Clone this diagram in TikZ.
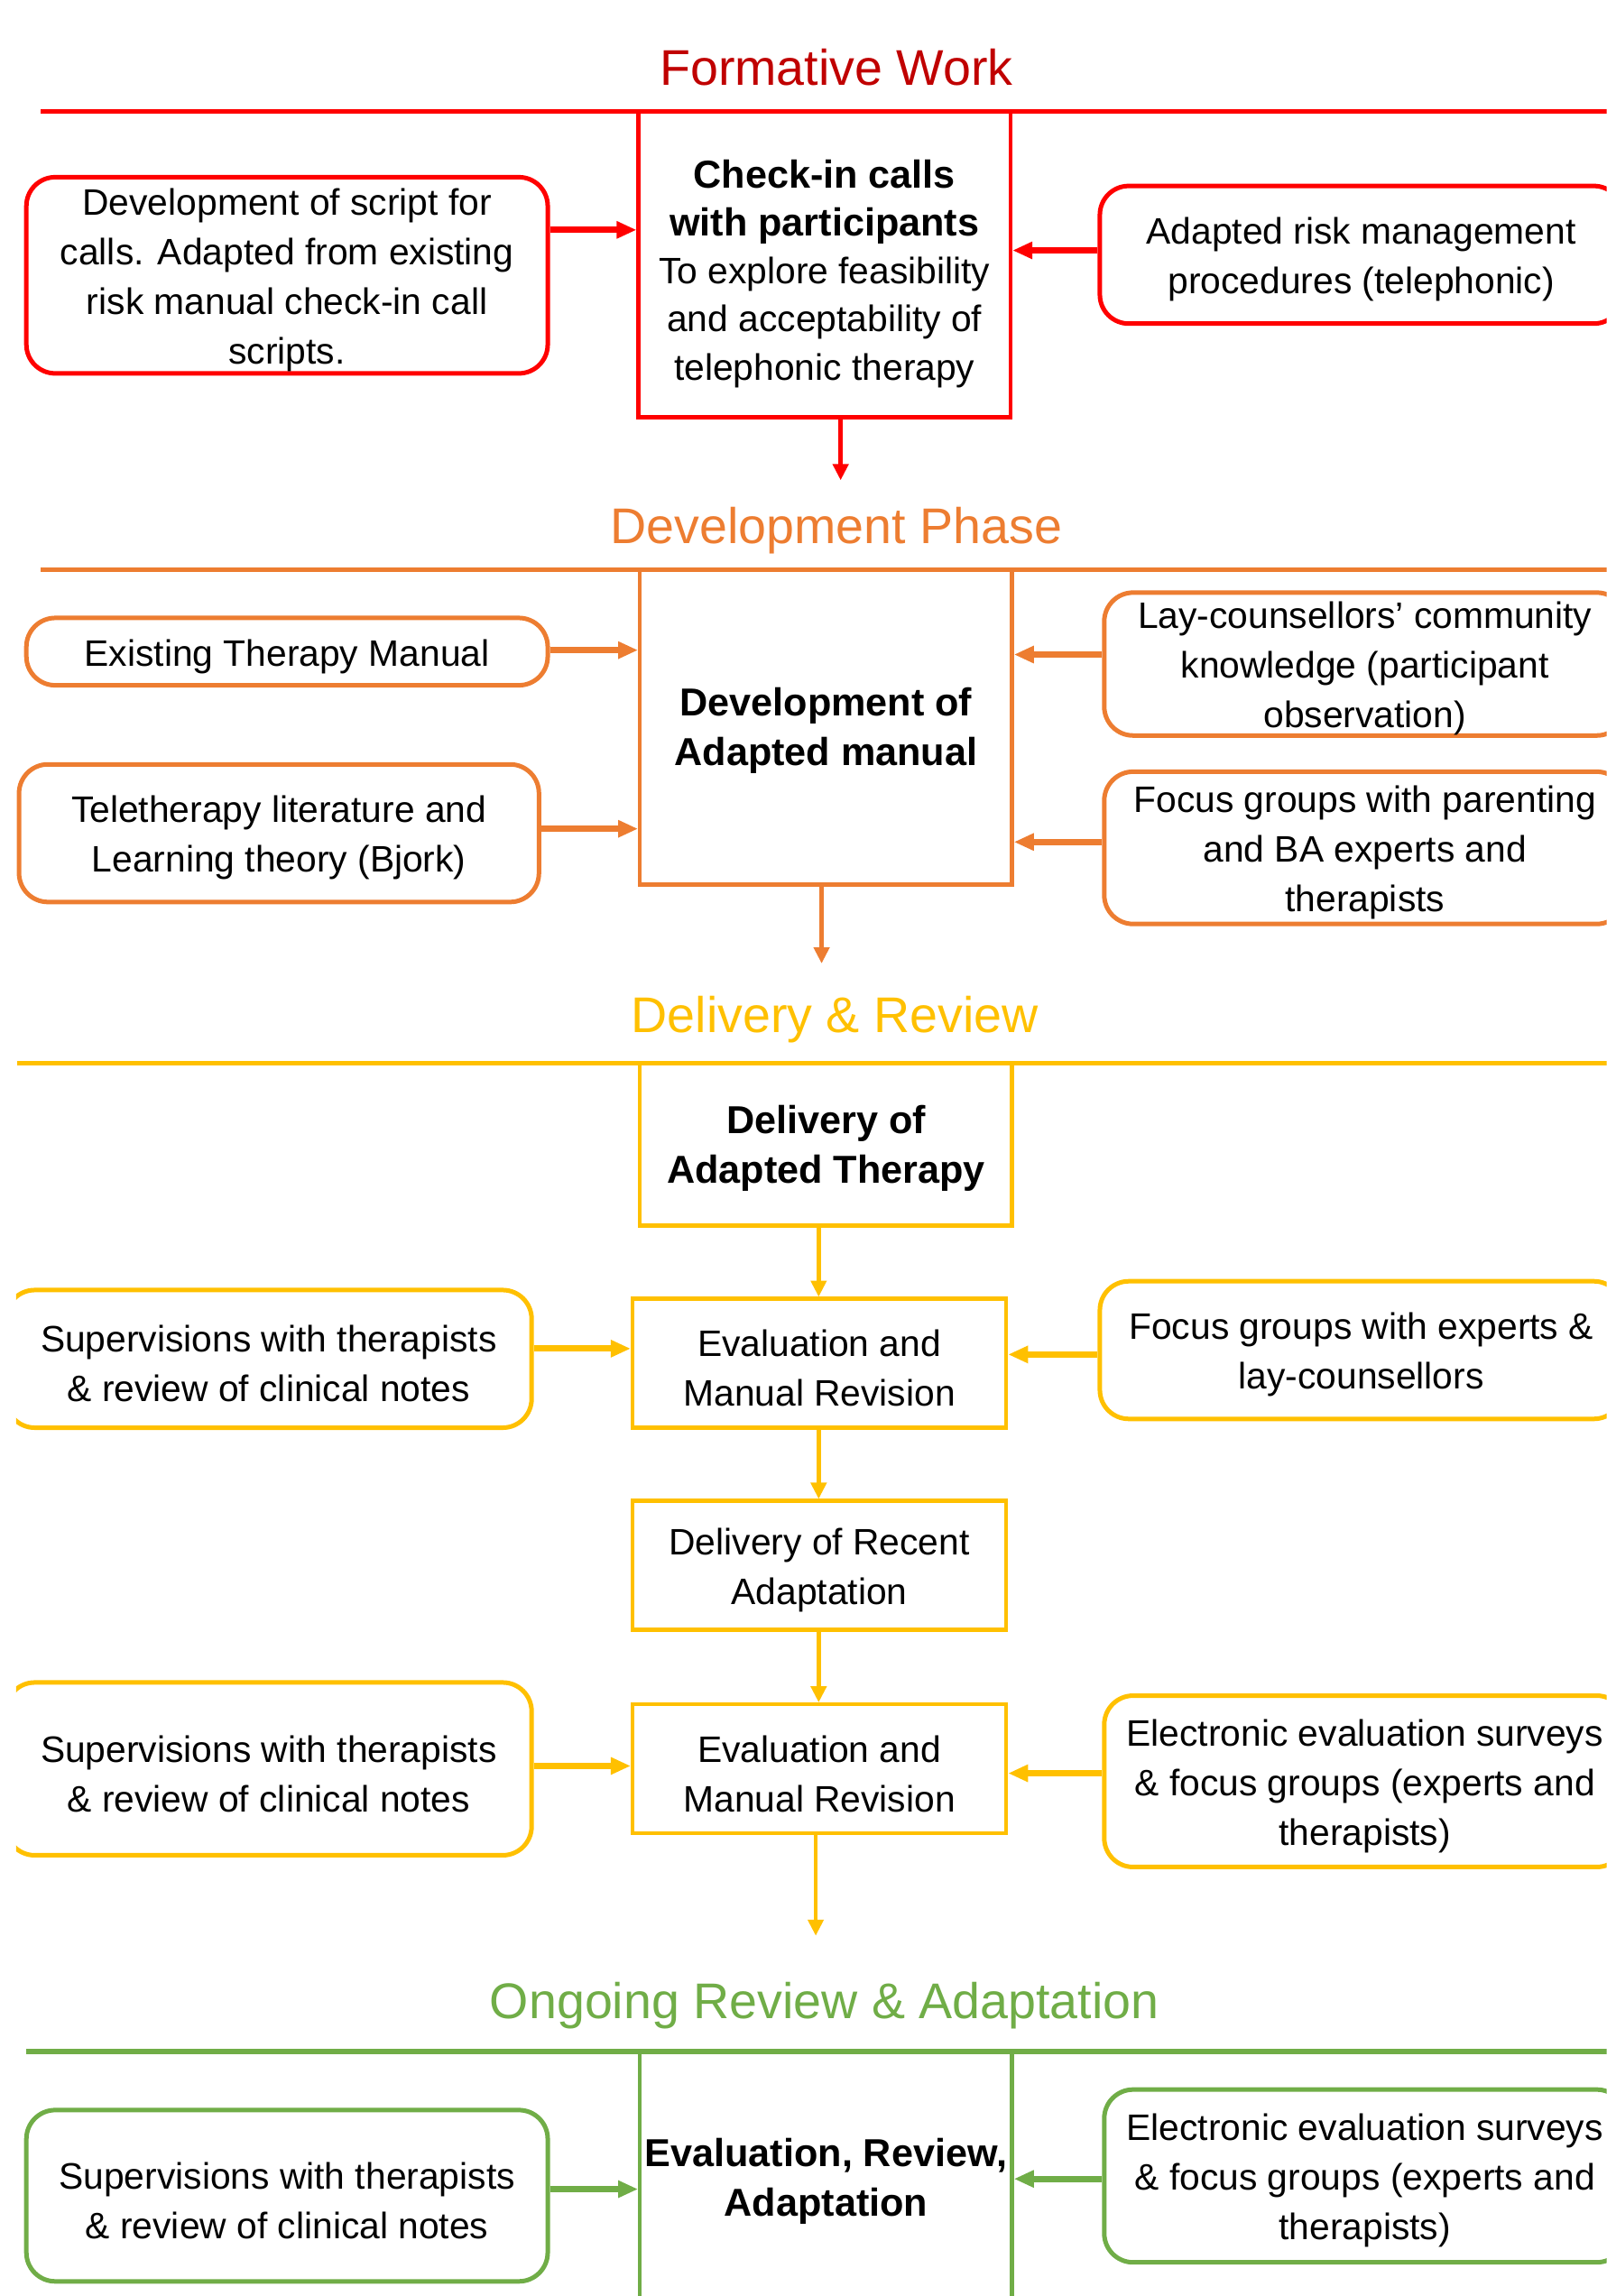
\documentclass[tikz,border=0pt]{standalone}
\usepackage{fontspec}
\setmainfont{Liberation Sans}
\usetikzlibrary{arrows.meta}
\definecolor{cred}{HTML}{FF0000}
\definecolor{cdred}{HTML}{C00000}
\definecolor{corange}{HTML}{ED7D31}
\definecolor{cyellow}{HTML}{FFC000}
\definecolor{cgreen}{HTML}{70AD47}
\newcommand{\bodyfnt}{\fontsize{20.4}{27.5}\selectfont}
\newcommand{\tightfnt}{\fontsize{20.4}{26.6}\selectfont}
\newcommand{\bfnt}{\fontsize{21.6}{27.5}\selectfont\bfseries}
\newcommand{\bfntt}{\fontsize{21.6}{26.6}\selectfont\bfseries}
\newcommand{\titlefnt}{\fontsize{27.8}{33}\selectfont}
\newcommand{\topstrut}{\rule{0pt}{20pt}}
\tikzset{
  sect/.style={line width=2.8pt},
  wh/.style 2 args={minimum width=#1*0.81175pt, minimum height=#2*0.81175pt},
  cbox/.style={draw, line width=2.2pt, inner sep=0pt, align=center, font=\bodyfnt, text=black},
  rbox/.style={cbox, rounded corners=16pt, line width=2.5pt},
  sarr/.style={line width=3.5pt, -{Triangle[length=11pt,width=9pt]}},
  darr/.style={line width=2.2pt, -{Triangle[length=9pt,width=8.5pt]}},
  ttl/.style={font=\titlefnt, text height=20pt, text depth=0pt, inner sep=0pt},
}
\begin{document}
\begin{tikzpicture}[x=0.81175pt,y=-0.81175pt]
\useasboundingbox (0,0) rectangle (1097,1568);
\begin{scope}
\clip (11,0) rectangle (1097,1568);
% ---------------- Formative Work
\node[ttl, text=cdred] (t1) at (571,46) {Formative Work};
\coordinate (l1a) at (28,76);
\coordinate (l1b) at (1115,76);
\draw[sect, cred] (l1a) -- (l1b);
\node[cbox, draw=cred, wh={254}{209}, font=\tightfnt] (cb1) at (563,180.5) {\topstrut\rule{0pt}{26pt}{\bfntt Check-in calls}\\{\bfntt with participants}\\To explore feasibility\\and acceptability of\\telephonic therapy};
\node[rbox, draw=cred, wh={356}{134}] (lb1) at (196,188) {\topstrut Development of script for\\calls. Adapted from existing\\risk manual check-in call\\scripts.};
\node[rbox, draw=cred, wh={357}{94}] (rb1) at (929.5,174) {\topstrut Adapted risk management\\procedures (telephonic)};
\draw[sarr, cred] (lb1.east |- 0,157) -- (cb1.west |- 0,157);
\draw[sarr, cred] (rb1.west |- 0,171) -- (cb1.east |- 0,171);
\coordinate (d1) at (574,328);
\draw[darr, cred] (d1 |- cb1.south) -- (d1);
% ---------------- Development Phase
\node[ttl, text=corange] (t2) at (571,359) {Development Phase};
\coordinate (l2a) at (28,389);
\coordinate (l2b) at (1115,389);
\draw[sect, corange] (l2a) -- (l2b);
\node[cbox, draw=corange, wh={254}{215}] (cb2) at (564,496.5) {\topstrut{\bfnt Development of}\\{\bfnt Adapted manual}};
\node[rbox, draw=corange, wh={356}{46}] (lb2a) at (196,445) {\topstrut Existing Therapy Manual};
\node[rbox, draw=corange, wh={355}{94}] (lb2b) at (190.5,569) {\topstrut Teletherapy literature and\\Learning theory (Bjork)};
\node[rbox, draw=corange, wh={356}{95}] (rb2a) at (932,453.5) {\topstrut Lay-counsellors’ community\\knowledge (participant\\observation)};
\node[rbox, draw=corange, wh={356}{104}] (rb2b) at (932,579) {\topstrut Focus groups with parenting\\and BA experts and\\therapists};
\draw[sarr, corange] (lb2a.east |- 0,444) -- (cb2.west |- 0,444);
\draw[sarr, corange] (lb2b.east |- 0,566) -- (cb2.west |- 0,566);
\draw[sarr, corange] (rb2a.west |- 0,447) -- (cb2.east |- 0,447);
\draw[sarr, corange] (rb2b.west |- 0,575) -- (cb2.east |- 0,575);
\coordinate (d2) at (561,658);
\draw[darr, corange] (d2 |- cb2.south) -- (d2);
% ---------------- Delivery & Review
\node[ttl, text=cyellow] (t3) at (570,693) {Delivery \& Review};
\coordinate (l3a) at (12,726);
\coordinate (l3b) at (1115,726);
\draw[sect, cyellow] (l3a) -- (l3b);
\node[cbox, draw=cyellow, wh={254}{111}] (cb3) at (564,781.5) {\topstrut{\bfnt Delivery of}\\{\bfnt Adapted Therapy}};
\node[cbox, draw=cyellow, wh={255}{88}] (ev1) at (559.5,931) {\topstrut Evaluation and\\Manual Revision};
\node[rbox, draw=cyellow, wh={359}{94}] (lb3) at (183.5,928) {\topstrut Supervisions with therapists\\\& review of clinical notes};
\node[rbox, draw=cyellow, wh={357}{94}] (rb3) at (929.5,922) {\topstrut Focus groups with experts \&\\lay-counsellors};
\node[cbox, draw=cyellow, wh={255}{88}] (dr) at (559.5,1069) {\topstrut Delivery of Recent\\Adaptation};
\node[cbox, draw=cyellow, wh={255}{88}] (ev2) at (559.5,1208) {\topstrut Evaluation and\\Manual Revision};
\node[rbox, draw=cyellow, wh={359}{118}] (lb4) at (183.5,1208) {\topstrut Supervisions with therapists\\\& review of clinical notes};
\node[rbox, draw=cyellow, wh={356}{117}] (rb4) at (932,1216.5) {\topstrut Electronic evaluation surveys\\\& focus groups (experts and\\therapists)};
\draw[darr, cyellow] (cb3.south -| 559,0) -- (ev1.north -| 559,0);
\draw[darr, cyellow] (ev1.south -| 559,0) -- (dr.north -| 559,0);
\draw[darr, cyellow] (dr.south -| 559,0) -- (ev2.north -| 559,0);
\draw[sarr, cyellow] (lb3.east |- 0,921) -- (ev1.west |- 0,921);
\draw[sarr, cyellow] (rb3.west |- 0,925) -- (ev1.east |- 0,925);
\draw[sarr, cyellow] (lb4.east |- 0,1206) -- (ev2.west |- 0,1206);
\draw[sarr, cyellow] (rb4.west |- 0,1211) -- (ev2.east |- 0,1211);
\coordinate (d3) at (557,1322);
\draw[darr, cyellow] (d3 |- ev2.south) -- (d3);
% ---------------- Ongoing Review & Adaptation
\node[ttl, text=cgreen] (t4) at (563,1366) {Ongoing Review \& Adaptation};
\coordinate (l4a) at (18,1401);
\coordinate (l4b) at (1115,1401);
\draw[sect, cgreen] (l4a) -- (l4b);
\node[cbox, draw=cgreen, wh={254}{172}] (cb4) at (564,1487) {\topstrut{\bfnt Evaluation, Review,}\\{\bfnt Adaptation}};
\node[rbox, draw=cgreen, wh={356}{117}] (lb5) at (196,1499.5) {\topstrut Supervisions with therapists\\\& review of clinical notes};
\node[rbox, draw=cgreen, wh={356}{118}] (rb5) at (932,1486) {\topstrut Electronic evaluation surveys\\\& focus groups (experts and\\therapists)};
\draw[sarr, cgreen] (lb5.east |- 0,1495) -- (cb4.west |- 0,1495);
\draw[sarr, cgreen] (rb5.west |- 0,1488) -- (cb4.east |- 0,1488);
\end{scope}
\end{tikzpicture}
\end{document}
